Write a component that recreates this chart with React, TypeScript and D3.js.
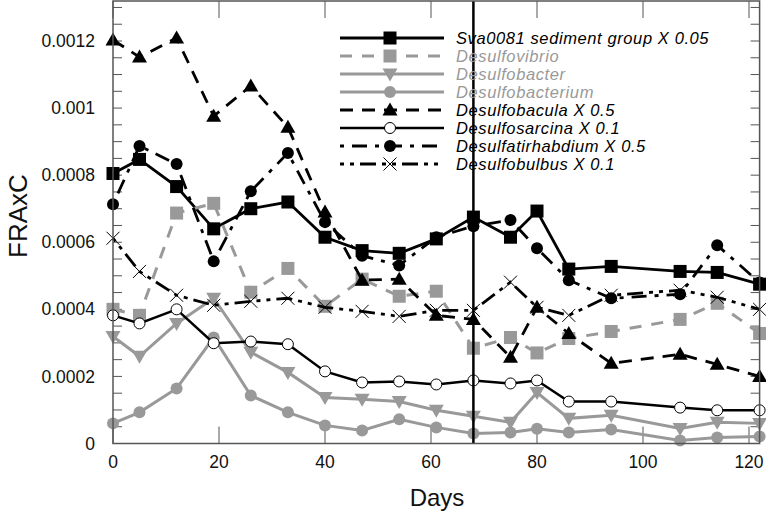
import React from "react";
import * as d3 from "d3";

const days = [0, 5, 12, 19, 26, 33, 40, 47, 54, 61, 68, 75, 80, 86, 94, 107, 114, 122];

const sva0081 = [0.000805, 0.000847, 0.000766, 0.00064, 0.0007, 0.00072, 0.000615, 0.000575, 0.000567, 0.00061, 0.000675, 0.000615, 0.000693, 0.00052, 0.000528, 0.000513, 0.00051, 0.000475];
const desulfovibrio = [0.0004, 0.000382, 0.000687, 0.000716, 0.000451, 0.000522, 0.000409, 0.00049, 0.000439, 0.000454, 0.000284, 0.000316, 0.00027, 0.000313, 0.000334, 0.00037, 0.000418, 0.000328];
const desulfobacter = [0.000319, 0.00026, 0.000358, 0.000433, 0.000272, 0.000212, 0.000137, 0.000132, 0.000125, 0.000099, 0.000081, 0.000063, 0.000152, 0.000075, 0.000084, 0.000045, 0.000063, 0.00006];
const desulfobacterium = [0.00006, 0.000093, 0.000164, 0.000316, 0.000143, 0.000093, 0.000054, 0.000039, 0.000072, 0.000048, 0.00003, 0.000033, 0.000044, 0.000033, 0.000042, 0.000009, 0.000018, 0.000021];
const desulfobacula = [0.001203, 0.001152, 0.001209, 0.000976, 0.001066, 0.000943, 0.00069, 0.000487, 0.00049, 0.000382, 0.00037, 0.000257, 0.000406, 0.000328, 0.000239, 0.000266, 0.000236, 0.0002];
const desulfosarcina = [0.000382, 0.000358, 0.0004, 0.000299, 0.000304, 0.000296, 0.000215, 0.000182, 0.000185, 0.000176, 0.000188, 0.000179, 0.000188, 0.000125, 0.000125, 0.000107, 0.000099, 0.000099];
const desulfatirhabdium = [0.000713, 0.000887, 0.000833, 0.000543, 0.000752, 0.000866, 0.00066, 0.00056, 0.000531, 0.000615, 0.000648, 0.000666, 0.000582, 0.000487, 0.000433, 0.000445, 0.000591, 0.00048];
const desulfobulbus = [0.000612, 0.000513, 0.000442, 0.000412, 0.000424, 0.000433, 0.000406, 0.000394, 0.000379, 0.000397, 0.000397, 0.000481, 0.000406, 0.000382, 0.000442, 0.000457, 0.000436, 0.0004];

const seriesNames = [
  "Sva0081 sediment group X 0.05",
  "Desulfovibrio",
  "Desulfobacter",
  "Desulfobacterium",
  "Desulfobacula X 0.5",
  "Desulfosarcina X 0.1",
  "Desulfatirhabdium X 0.5",
  "Desulfobulbus X 0.1",
];
const seriesValues = [sva0081, desulfovibrio, desulfobacter, desulfobacterium, desulfobacula, desulfosarcina, desulfatirhabdium, desulfobulbus];

const yTickValues = [0, 0.0002, 0.0004, 0.0006, 0.0008, 0.001, 0.0012];
const yTickLabels = ["0", "0.0002", "0.0004", "0.0006", "0.0008", "0.001", "0.0012"];
const xTickValues = [0, 20, 40, 60, 80, 100, 120];
const markerDay = 68;

const GRAY = "#999999";
const BLACK = "#000000";

type Style = { color: string; width: number; dash: string | null; marker: string; textColor: string };
const styles: Style[] = [
  { color: BLACK, width: 2.8, dash: null, marker: "square", textColor: BLACK },
  { color: GRAY, width: 3, dash: "12,10", marker: "squareGray", textColor: GRAY },
  { color: GRAY, width: 3, dash: null, marker: "triDown", textColor: GRAY },
  { color: GRAY, width: 3, dash: null, marker: "circleGray", textColor: GRAY },
  { color: BLACK, width: 2.8, dash: "13,9", marker: "triUp", textColor: BLACK },
  { color: BLACK, width: 2.5, dash: null, marker: "openCircle", textColor: BLACK },
  { color: BLACK, width: 2.8, dash: "4,8,15,8", marker: "circle", textColor: BLACK },
  { color: BLACK, width: 2.8, dash: "4,6,4,6,16,6", marker: "cross", textColor: BLACK },
];

function Marker({ kind, cx, cy }: { kind: string; cx: number; cy: number }) {
  switch (kind) {
    case "square":
      return <rect x={cx - 6.5} y={cy - 6.5} width={13} height={13} fill={BLACK} />;
    case "squareGray":
      return <rect x={cx - 6.5} y={cy - 6.5} width={13} height={13} fill={GRAY} />;
    case "triDown":
      return <path d={`M${cx - 7.5},${cy - 5.5} L${cx + 7.5},${cy - 5.5} L${cx},${cy + 7.5} Z`} fill={GRAY} />;
    case "triUp":
      return <path d={`M${cx - 7.5},${cy + 5.5} L${cx + 7.5},${cy + 5.5} L${cx},${cy - 7.5} Z`} fill={BLACK} />;
    case "circleGray":
      return <circle cx={cx} cy={cy} r={6} fill={GRAY} />;
    case "circle":
      return <circle cx={cx} cy={cy} r={6} fill={BLACK} />;
    case "openCircle":
      return <circle cx={cx} cy={cy} r={5.5} fill="white" stroke={BLACK} strokeWidth={1} />;
    case "cross":
      return (
        <path d={`M${cx - 6.5},${cy - 6.5} L${cx + 6.5},${cy + 6.5} M${cx - 6.5},${cy + 6.5} L${cx + 6.5},${cy - 6.5}`} stroke={BLACK} strokeWidth={1} fill="none" />
      );
    default:
      return null;
  }
}

export default function App() {
  const W = 766, H = 512;
  const left = 113, right = 759.6, top = 1, bottom = 443.5;
  const x = d3.scaleLinear().domain([0, 122]).range([left, right]);
  const y = d3.scaleLinear().domain([0, 0.0012]).range([bottom, 41]);
  const line = d3.line<[number, number]>().x((d) => x(d[0])).y((d) => y(d[1]));
  const minorY = d3.range(0, y.invert(top), 0.00005);
  const axisColor = "#555";
  const font = "'Liberation Sans', Arial, sans-serif";

  const legendX0 = 340, legendX1 = 444, legendTextX = 456;
  const legendY = (i: number) => 38 + i * 18;

  return (
    <svg width={W} height={H} style={{ position: "absolute", left: 0, top: 0, background: "white" }} fontFamily={font}>
      <rect x={0} y={0} width={W} height={H} fill="white" />
      {minorY.map((v, i) => (
        <g key={"yt" + i}>
          <line x1={left} x2={left + 9} y1={y(v)} y2={y(v)} stroke={axisColor} strokeWidth={1} />
          <line x1={right - 9} x2={right} y1={y(v)} y2={y(v)} stroke={axisColor} strokeWidth={1} />
        </g>
      ))}
      {xTickValues.map((v, i) => (
        <g key={"xt" + i}>
          <line x1={x(v)} x2={x(v)} y1={bottom} y2={bottom - 17} stroke={axisColor} strokeWidth={1} />
          <line x1={x(v)} x2={x(v)} y1={top} y2={top + 17} stroke={axisColor} strokeWidth={1} />
        </g>
      ))}
      {seriesValues.map((vals, si) => {
        const st = styles[si];
        const pts = days.map((d, i) => [d, vals[i]] as [number, number]);
        return (
          <g key={"s" + si}>
            <path d={line(pts) || ""} fill="none" stroke={st.color} strokeWidth={st.width} strokeDasharray={st.dash || undefined} />
            {pts.map((p, i) => (
              <Marker key={i} kind={st.marker} cx={x(p[0])} cy={y(p[1])} />
            ))}
          </g>
        );
      })}
      <line x1={x(markerDay)} x2={x(markerDay)} y1={top} y2={bottom} stroke={BLACK} strokeWidth={2.5} />
      <rect x={left} y={top} width={right - left} height={bottom - top} fill="none" stroke={axisColor} strokeWidth={1.5} />
      {yTickValues.map((v, i) => (
        <text key={"yl" + i} x={95} y={y(v)} dy="0.35em" textAnchor="end" fontSize={17.5} fill="#111">
          {yTickLabels[i]}
        </text>
      ))}
      {xTickValues.map((v, i) => (
        <text key={"xl" + i} x={x(v)} y={468} textAnchor="middle" fontSize={17.5} fill="#111">
          {String(v)}
        </text>
      ))}
      <text x={437} y={506} textAnchor="middle" fontSize={24} fill="#111">Days</text>
      <text transform={`translate(27,216) rotate(-90)`} textAnchor="middle" fontSize={26} fill="#111">FRAxC</text>
      {seriesNames.map((name, i) => {
        const st = styles[i];
        const ly = legendY(i);
        return (
          <g key={"lg" + i}>
            <line x1={legendX0} x2={legendX1} y1={ly} y2={ly} stroke={st.color} strokeWidth={st.width} strokeDasharray={st.dash || undefined} />
            <Marker kind={st.marker} cx={(legendX0 + legendX1) / 2 - 2} cy={ly} />
            <text x={legendTextX} y={ly} dy="0.35em" fontSize={16.5} letterSpacing={0.6} fontStyle="italic" fill={st.textColor}>
              {name}
            </text>
          </g>
        );
      })}
    </svg>
  );
}
